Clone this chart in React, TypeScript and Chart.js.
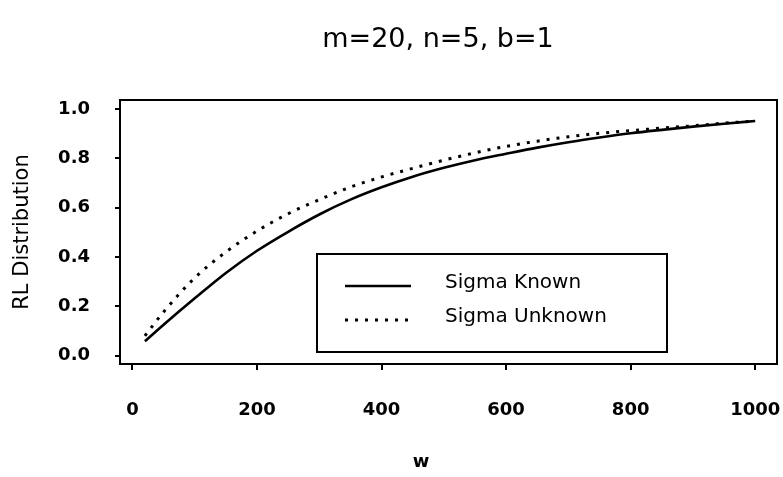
import React, { useEffect, useRef } from "react";
import { Chart, registerables } from "chart.js";

Chart.register(...registerables);

// Run-length distribution, P(RL <= w), for the two chart designs
const TITLE = "m=20, n=5, b=1";
const X_LABEL = "w";
const Y_LABEL = "RL Distribution";

const W_VALUES = [20, 50, 100, 150, 200, 250, 300, 350, 400, 450, 500, 550, 600, 650, 700, 750, 800, 850, 900, 950, 1000];
const SIGMA_KNOWN = [0.058, 0.125, 0.232, 0.335, 0.425, 0.502, 0.572, 0.632, 0.682, 0.725, 0.761, 0.792, 0.818, 0.843, 0.865, 0.884, 0.901, 0.915, 0.928, 0.94, 0.951];
const SIGMA_UNKNOWN = [0.08, 0.177, 0.315, 0.42, 0.505, 0.575, 0.632, 0.683, 0.724, 0.759, 0.792, 0.822, 0.848, 0.869, 0.887, 0.901, 0.912, 0.922, 0.932, 0.942, 0.951];

const SERIES_LABELS = ["Sigma Known", "Sigma Unknown"];
const X_TICKS = [0, 200, 400, 600, 800, 1000];
const Y_TICKS = [0, 0.2, 0.4, 0.6, 0.8, 1.0];

const FONT = "'DejaVu Sans', sans-serif";

// Frame, title, axis titles and the boxed legend
const decorations = {
  id: "decorations",
  afterDraw(chart: any) {
    const { ctx, chartArea } = chart;
    const { left, right, top, bottom } = chartArea;
    ctx.save();

    ctx.strokeStyle = "#000";
    ctx.lineWidth = 2;
    ctx.strokeRect(left, top, right - left, bottom - top);

    ctx.fillStyle = "#000";
    ctx.textAlign = "center";
    ctx.textBaseline = "middle";
    ctx.font = `27px ${FONT}`;
    ctx.fillText(TITLE, 438, 40);

    ctx.font = `bold 18px ${FONT}`;
    ctx.fillText(X_LABEL, 421, 462);

    ctx.save();
    ctx.translate(23, (top + bottom) / 2);
    ctx.rotate(-Math.PI / 2);
    ctx.font = `21px ${FONT}`;
    ctx.fillText(Y_LABEL, 0, 0);
    ctx.restore();

    // legend box
    const bx = left + 197;
    const by = top + 154;
    const bw = 350;
    const bh = 98;
    ctx.lineWidth = 2;
    ctx.strokeRect(bx, by, bw, bh);
    const rows = [by + 32, by + 66];
    chart.data.datasets.forEach((ds: any, i: number) => {
      const y = rows[i];
      ctx.beginPath();
      ctx.lineWidth = ds.borderWidth;
      ctx.setLineDash(ds.borderDash || []);
      ctx.moveTo(bx + 28, y);
      ctx.lineTo(bx + 94, y);
      ctx.stroke();
      ctx.setLineDash([]);
      ctx.font = `20px ${FONT}`;
      ctx.textAlign = "left";
      ctx.fillText(ds.label, bx + 128, y - 3);
    });
    ctx.restore();
  },
};

export default function App() {
  const ref = useRef<HTMLCanvasElement | null>(null);

  useEffect(() => {
    if (!ref.current) return;
    const chart = new Chart(ref.current, {
      type: "line",
      data: {
        datasets: [
          {
            label: SERIES_LABELS[0],
            data: W_VALUES.map((w, i) => ({ x: w, y: SIGMA_KNOWN[i] })),
            borderColor: "#000",
            borderWidth: 2.6,
            pointRadius: 0,
            cubicInterpolationMode: "monotone",
            fill: false,
          },
          {
            label: SERIES_LABELS[1],
            data: W_VALUES.map((w, i) => ({ x: w, y: SIGMA_UNKNOWN[i] })),
            borderColor: "#000",
            borderWidth: 3,
            borderDash: [3, 7],
            pointRadius: 0,
            cubicInterpolationMode: "monotone",
            fill: false,
          },
        ],
      },
      options: {
        responsive: false,
        animation: false,
        layout: { padding: { top: 100, right: 6, left: 0, bottom: 0 } },
        plugins: {
          legend: { display: false },
          title: { display: false },
          tooltip: { enabled: false },
        },
        scales: {
          x: {
            type: "linear",
            min: -20,
            max: 1035,
            afterFit: (s: any) => {
              s.height = 113;
              s.paddingLeft = 0;
              s.paddingRight = 0;
            },
            afterBuildTicks: (s: any) => {
              s.ticks = X_TICKS.map((v) => ({ value: v }));
            },
            grid: { drawOnChartArea: false, tickLength: 6, color: "#000", lineWidth: 2 },
            border: { display: false },
            ticks: {
              color: "#000",
              padding: 30,
              maxRotation: 0,
              font: { family: FONT, size: 18, weight: "bold" },
              callback: (v: any) => String(v),
            },
          },
          y: {
            type: "linear",
            min: -0.034,
            max: 1.036,
            afterFit: (s: any) => {
              s.width = 120;
              s.paddingTop = 0;
              s.paddingBottom = 0;
            },
            afterBuildTicks: (s: any) => {
              s.ticks = Y_TICKS.map((v) => ({ value: v }));
            },
            grid: { drawOnChartArea: false, tickLength: 5, color: "#000", lineWidth: 2 },
            border: { display: false },
            ticks: {
              color: "#000",
              padding: 25,
              font: { family: FONT, size: 18, weight: "bold" },
              callback: (v: any) => Number(v).toFixed(1),
            },
          },
        },
      },
      plugins: [decorations],
    });
    return () => chart.destroy();
  }, []);

  return (
    <div style={{ position: "fixed", left: 0, top: 0, width: 783, height: 477, background: "#fff" }}>
      <canvas ref={ref} width={783} height={477} />
    </div>
  );
}
